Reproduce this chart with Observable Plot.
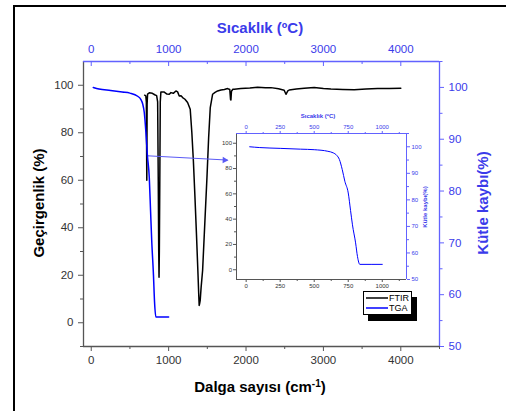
<!DOCTYPE html>
<html><head><meta charset="utf-8">
<script src="https://cdn.jsdelivr.net/npm/d3@7"></script>
<script src="https://cdn.jsdelivr.net/npm/@observablehq/plot@0.6"></script>
<style>
html,body{margin:0;padding:0;background:#fff;overflow:hidden;}
#c{position:relative;width:506px;height:411px;overflow:hidden;font-family:"Liberation Sans",Arial,sans-serif;}
#c svg{position:absolute;left:0;top:0;}
.t{position:absolute;white-space:nowrap;font-weight:bold;transform:translate(-50%,-50%);line-height:1;}
.border{position:absolute;left:13px;top:5px;width:500px;height:420px;border-top:2px solid #000;border-left:2px solid #000;}
.legend{position:absolute;left:363px;top:291px;width:47px;height:22px;border:1px solid #000;background:#fff;box-shadow:5px 6px 0 #000;font-size:9px;}
.legend div{position:absolute;left:2px;height:10px;display:flex;align-items:center;}
.legend span{margin-left:1px;}
</style></head><body><div id="c"></div>
<script>
// ---- data ----
const ftirWavenumber = [690,705,712,718,722,728,750,790,820,845,858,866,872,876,880,886,892,900,939,978,1008,1030,1060,1094,1116,1137,1160,1181,1211,1245,1279,1300,1320,1340,1360,1380,1390,1395,1400,1408,1420,1439,1469,1495,1517,1538,1568,1600,1633,1676,1720,1762,1790,1800,1805,1812,1830,1848,1934,2050,2150,2250,2322,2420,2493,2516,2540,2558,2650,2752,2881,3000,3097,3250,3398,3550,3700,3850,4000];
const ftirTransmittance = [95.8,95.5,93,60,92,96.3,96.8,96.6,96,95.6,93,60,30,19.2,30,60,93,97.2,97.2,96.3,96.2,96.9,96.6,97.6,97.2,95.5,95.6,94.8,94.1,92.7,89.9,80,68,53,37,20,11,7.3,8,9.4,15,22,43,61,78,90.6,96.2,97,97.6,98,98.2,98.6,98.2,94,93.8,97.5,98.3,98.3,98.6,98.8,99.2,98.9,99,98.5,97.9,96.2,97.6,98,98.4,98.7,99.1,98.6,98.4,98.2,98.1,98.4,98.6,98.6,98.7];
const tgaTemperature = [26,100,250,400,500,600,640,665,685,706,725,750,767,781,804,818,835,1000];
const tgaMass = [100,99.7,99.4,99.1,98.9,98.3,97.7,96.8,95.2,91.4,87,82.6,76,70.6,63.8,58.6,55.7,55.7];

const wavenumberDomain = [-100, 4500];
const transmittanceDomain = [-10, 110];
const massDomain = [50, 105];
const insetTemperatureDomain = [-71, 1178];
const insetLeftDomain = [-7.7, 107.7];

const wavenumberTicks = [0,1000,2000,3000,4000];
const wavenumberMinorTicks = [500,1500,2500,3500,4500];
const temperatureTicks = [0,1000,2000,3000,4000];
const temperatureMinorTicks = [500,1500,2500,3500,4500];
const transmittanceTicks = [0,20,40,60,80,100];
const transmittanceMinorTicks = [-10,10,30,50,70,90];
const massTicks = [50,60,70,80,90,100];
const massMinorTicks = [55,65,75,85,95,105];
const insetTemperatureTicks = [0,250,500,750,1000];
const insetTemperatureMinorTicks = [125,375,625,875,1125];
const insetLeftTicks = [0,20,40,60,80,100];
const insetLeftMinorTicks = [10,30,50,70,90];

const arrowWavenumber = [725, 1762];
const arrowTransmittance = [70.3, 68.5];

// ---- styles ----
const font = '"Liberation Sans", Arial, sans-serif';
const W = 506, H = 411;
const gray = "#555", grayText = "#333";
const blueAxis = "#6262ff", blueText = "#3b3bea", blueLine = "#0000ff", arrowBlue = "#5a5af5";
const mainM = {marginLeft: 83, marginRight: 67, marginTop: 61, marginBottom: 65};
const insetM = {marginLeft: 236, marginRight: 100, marginTop: 133, marginBottom: 132};
const mainFrameH = H - mainM.marginTop - mainM.marginBottom;
const base = (m) => ({width: W, height: H, ...m, style: {background: "transparent", fontFamily: font, overflow: "visible"}});
const fmt = d => String(d);

const ftir = ftirWavenumber.map((w, i) => ({w, t: ftirTransmittance[i]}));
const tga = tgaTemperature.map((T, i) => ({T, m: tgaMass[i]}));
const arrow = [{x1: arrowWavenumber[0], y1: arrowTransmittance[0], x2: arrowWavenumber[1], y2: arrowTransmittance[1]}];

const c = document.getElementById("c");

const pFtir = Plot.plot({
  ...base(mainM),
  x: {domain: wavenumberDomain},
  y: {domain: transmittanceDomain},
  marks: [
    Plot.ruleX([wavenumberDomain[0]], {stroke: gray, strokeWidth: 1.3}),
    Plot.ruleY([transmittanceDomain[0]], {stroke: gray, strokeWidth: 1.3}),
    Plot.axisX(wavenumberTicks, {anchor: "bottom", tickSize: 5, tickPadding: 4, stroke: gray, fill: grayText, fontSize: 11.5, label: null, tickFormat: fmt}),
    Plot.axisX(wavenumberMinorTicks, {anchor: "bottom", tickSize: 3, stroke: gray, fill: "none", label: null}),
    Plot.axisY(transmittanceTicks, {anchor: "left", tickSize: 5, tickPadding: 5, stroke: gray, fill: grayText, fontSize: 11.5, label: null, tickFormat: fmt}),
    Plot.axisY(transmittanceMinorTicks, {anchor: "left", tickSize: 3, stroke: gray, fill: "none", label: null}),
    Plot.line(ftir, {x: "w", y: "t", stroke: "#000", strokeWidth: 1.5, curve: "linear"}),
    Plot.link(arrow, {x1: "x1", y1: "y1", x2: "x2", y2: "y2", stroke: arrowBlue, strokeWidth: 1}),
    Plot.dot(arrow, {x: "x2", y: "y2", symbol: "triangle2", r: 3.2, fill: arrowBlue, rotate: 92, dx: -3})
  ]
});

const pTga = Plot.plot({
  ...base(mainM),
  x: {domain: wavenumberDomain},
  y: {domain: massDomain},
  marks: [
    Plot.ruleY([massDomain[1]], {stroke: blueAxis, strokeWidth: 1.3}),
    Plot.ruleX([wavenumberDomain[1]], {stroke: blueAxis, strokeWidth: 1.3}),
    Plot.tickX(temperatureTicks, {x: d => d, stroke: blueAxis, insetBottom: mainFrameH - 5}),
    Plot.tickX(temperatureMinorTicks, {x: d => d, stroke: blueAxis, insetBottom: mainFrameH - 3}),
    Plot.axisX(temperatureTicks, {anchor: "top", tickSize: 0, tickPadding: 9, fill: blueText, fontSize: 11.5, label: null, tickFormat: fmt}),
    Plot.axisY(massTicks, {anchor: "right", tickSize: 4, tickPadding: 5, stroke: blueAxis, fill: blueText, fontSize: 11.5, label: null, tickFormat: fmt}),
    Plot.axisY(massMinorTicks, {anchor: "right", tickSize: 2.5, stroke: blueAxis, fill: "none", label: null}),
    Plot.line(tga, {x: "T", y: "m", stroke: blueLine, strokeWidth: 1.5, curve: "monotone-x"})
  ]
});

const pInsetLeft = Plot.plot({
  ...base(insetM),
  x: {domain: insetTemperatureDomain},
  y: {domain: insetLeftDomain},
  marks: [
    Plot.ruleX([insetTemperatureDomain[0]], {stroke: gray, strokeWidth: 1}),
    Plot.ruleY([insetLeftDomain[0]], {stroke: gray, strokeWidth: 1}),
    Plot.axisX(insetTemperatureTicks, {anchor: "bottom", tickSize: 3, tickPadding: 1.5, stroke: gray, fill: grayText, fontSize: 6, label: null, tickFormat: fmt}),
    Plot.axisX(insetTemperatureMinorTicks, {anchor: "bottom", tickSize: 2, stroke: gray, fill: "none", label: null}),
    Plot.axisY(insetLeftTicks, {anchor: "left", tickSize: 3, tickPadding: 1.5, stroke: gray, fill: grayText, fontSize: 6, label: null, tickFormat: fmt}),
    Plot.axisY(insetLeftMinorTicks, {anchor: "left", tickSize: 2, stroke: gray, fill: "none", label: null})
  ]
});

const pInsetTga = Plot.plot({
  ...base(insetM),
  x: {domain: insetTemperatureDomain},
  y: {domain: massDomain},
  marks: [
    Plot.ruleY([massDomain[1]], {stroke: blueAxis, strokeWidth: 1}),
    Plot.ruleX([insetTemperatureDomain[1]], {stroke: blueAxis, strokeWidth: 1}),
    Plot.axisX(insetTemperatureTicks, {anchor: "top", tickSize: 3, tickPadding: 1.5, stroke: blueAxis, fill: blueText, fontSize: 6, label: null, tickFormat: fmt}),
    Plot.axisX(insetTemperatureMinorTicks, {anchor: "top", tickSize: 2, stroke: blueAxis, fill: "none", label: null}),
    Plot.axisY(massTicks, {anchor: "right", tickSize: 3, tickPadding: 2, stroke: blueAxis, fill: blueText, fontSize: 6, label: null, tickFormat: fmt}),
    Plot.axisY(massMinorTicks, {anchor: "right", tickSize: 2, stroke: blueAxis, fill: "none", label: null}),
    Plot.line(tga, {x: "T", y: "m", stroke: blueLine, strokeWidth: 1, curve: "monotone-x"})
  ]
});

const border = document.createElement("div");
border.className = "border";
c.appendChild(border);
[pFtir, pTga, pInsetLeft, pInsetTga].forEach(p => c.appendChild(p));

function label(html, x, y, size, color, rotate) {
  const d = document.createElement("div");
  d.className = "t";
  d.innerHTML = html;
  d.style.left = x + "px";
  d.style.top = y + "px";
  d.style.fontSize = size + "px";
  d.style.color = color;
  if (rotate) d.style.transform = `translate(-50%,-50%) rotate(${rotate}deg)`;
  c.appendChild(d);
}
label("Sıcaklık (ºC)", 260, 27, 15, blueText);
label('Dalga sayısı (cm<sup style="font-size:10px;vertical-align:5px">-1</sup>)', 260, 386, 15, "#000");
label("Geçirgenlik (%)", 38, 203, 15, "#000", -90);
label("Kütle kaybı(%)", 482, 203, 15, blueText, -90);
label("Sıcaklık (ºC)", 318, 116, 6, blueText);
label("Kütle kaybı(%)", 425, 207, 6, blueText, -90);

const lg = document.createElement("div");
lg.className = "legend";
lg.innerHTML = `<div style="top:1px"><svg width="22" height="10" style="position:static"><line x1="0" x2="22" y1="5" y2="5" stroke="#000" stroke-width="1.5"/></svg><span>FTIR</span></div>
<div style="top:11px"><svg width="22" height="10" style="position:static"><line x1="0" x2="22" y1="5" y2="5" stroke="${blueLine}" stroke-width="1.5"/></svg><span>TGA</span></div>`;
c.appendChild(lg);
</script>
</body></html>
